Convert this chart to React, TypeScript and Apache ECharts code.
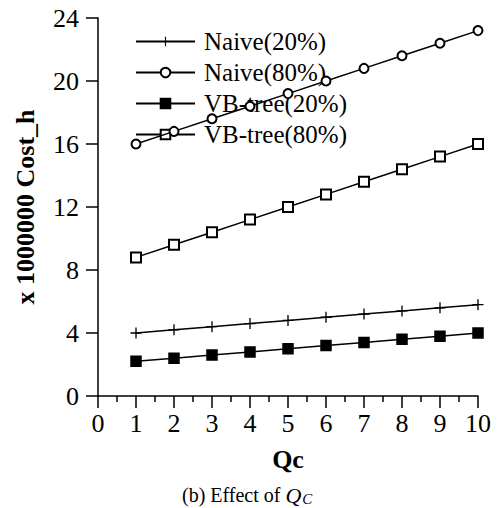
import React, { useEffect, useRef } from "react";
import * as echarts from "echarts";

const qcValues = [1, 2, 3, 4, 5, 6, 7, 8, 9, 10];
const naive20 = [4.0, 4.2, 4.4, 4.6, 4.8, 5.0, 5.2, 5.4, 5.6, 5.8];
const naive80 = [16.0, 16.8, 17.6, 18.4, 19.2, 20.0, 20.8, 21.6, 22.4, 23.2];
const vb20 = [2.2, 2.4, 2.6, 2.8, 3.0, 3.2, 3.4, 3.6, 3.8, 4.0];
const vb80 = [8.8, 9.6, 10.4, 11.2, 12.0, 12.8, 13.6, 14.4, 15.2, 16.0];
const seriesNames = ["Naive(20%)", "Naive(80%)", "VB-tree(20%)", "VB-tree(80%)"];

const FONT = "Liberation Serif";
const PLUS = "path://M4.4,0h1.2v4.4h4.4v1.2h-4.4v4.4h-1.2v-4.4h-4.4v-1.2h4.4z";

function pairs(ys: number[]) {
  return qcValues.map((x, i) => [x, ys[i]]);
}

export default function App() {
  const ref = useRef<HTMLDivElement>(null);
  useEffect(() => {
    if (!ref.current) return;
    const chart = echarts.init(ref.current, null, { renderer: "svg" });
    const base = {
      type: "line" as const,
      color: "#000",
      lineStyle: { color: "#000", width: 1.5 },
      itemStyle: { color: "#000", borderColor: "#000", borderWidth: 1.5 },
      z: 3,
    };
    chart.setOption({
      animation: false,
      backgroundColor: "#fff",
      textStyle: { fontFamily: FONT },
      grid: { left: 98, right: 19, top: 18, bottom: 112, containLabel: false },
      legend: {
        orient: "vertical",
        left: 135,
        top: 29,
        itemWidth: 59,
        itemHeight: 12,
        itemGap: 6,
        padding: 0,
        data: seriesNames,
        textStyle: { fontFamily: FONT, fontSize: 25, color: "#000", padding: [0, 0, 0, 4] },
        z: 2,
      },
      xAxis: {
        type: "value",
        min: 0,
        max: 10,
        interval: 1,
        axisLine: { show: true, lineStyle: { color: "#000", width: 1.5 } },
        axisTick: { show: true, length: 12, lineStyle: { color: "#000", width: 1.5 } },
        minorTick: { show: true, splitNumber: 2, length: 6, lineStyle: { color: "#000", width: 1.5 } },
        splitLine: { show: false },
        minorSplitLine: { show: false },
        axisLabel: { fontFamily: FONT, fontSize: 26, color: "#000", margin: 14 },
        name: "Qc",
        nameLocation: "middle",
        nameGap: 50,
        nameTextStyle: { fontFamily: FONT, fontSize: 26, fontWeight: "bold", color: "#000" },
      },
      yAxis: {
        type: "value",
        min: 0,
        max: 24,
        interval: 4,
        axisLine: { show: true, lineStyle: { color: "#000", width: 1.5 } },
        axisTick: { show: true, length: 12, lineStyle: { color: "#000", width: 1.5 } },
        splitLine: { show: false },
        axisLabel: { fontFamily: FONT, fontSize: 26, color: "#000", margin: 19 },
        name: "x 1000000 Cost_h",
        nameLocation: "middle",
        nameGap: 60,
        nameTextStyle: { fontFamily: FONT, fontSize: 26, fontWeight: "bold", color: "#000" },
      },
      graphic: [
        {
          type: "text",
          left: 182,
          top: 484,
          style: {
            text: "(b) Effect of {q|Q}{c|C}",
            fontFamily: FONT,
            fontSize: 20,
            fill: "#000",
            rich: {
              q: { fontFamily: FONT, fontSize: 22, fontStyle: "italic", fill: "#000" },
              c: { fontFamily: FONT, fontSize: 15, fontStyle: "italic", fill: "#000", verticalAlign: "bottom", padding: [0, 0, 0, 1] },
            },
          },
        },
      ],
      series: [
        { ...base, name: seriesNames[0], data: pairs(naive20), symbol: PLUS, symbolSize: 11, itemStyle: { color: "#000", borderWidth: 0 } },
        { ...base, name: seriesNames[1], data: pairs(naive80), symbol: "emptyCircle", symbolSize: 9 },
        { ...base, name: seriesNames[2], data: pairs(vb20), symbol: "rect", symbolSize: 10 },
        { ...base, name: seriesNames[3], data: pairs(vb80), symbol: "emptyRect", symbolSize: 10 },
      ],
    });
    return () => chart.dispose();
  }, []);
  return <div ref={ref} style={{ position: "absolute", left: 0, top: 0, width: 497, height: 508 }} />;
}
